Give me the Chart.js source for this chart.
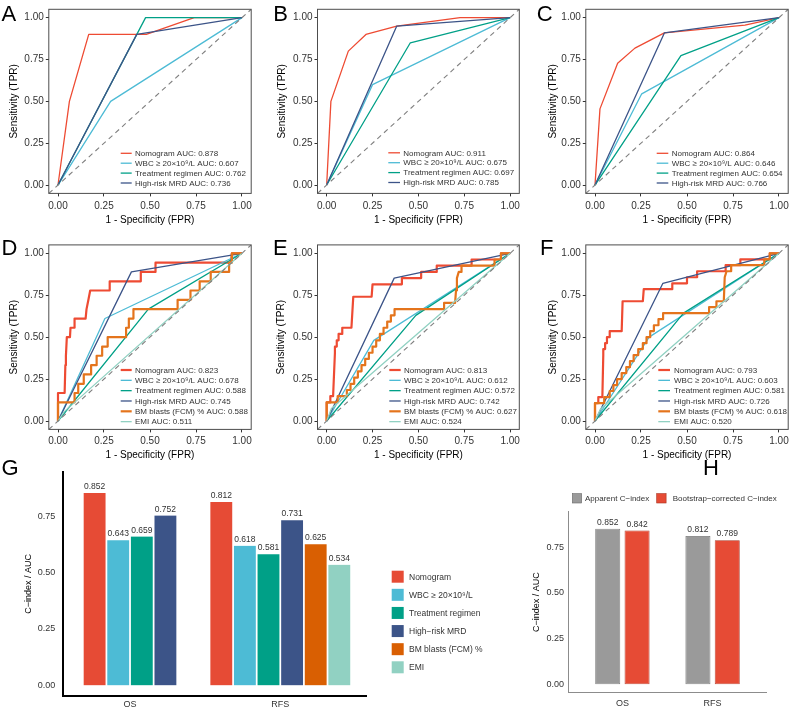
<!DOCTYPE html>
<html>
<head>
<meta charset="utf-8">
<title>ROC curves and C-index comparison</title>
<script src="https://cdn.jsdelivr.net/npm/chart.js@4.4.1/dist/chart.umd.min.js"></script>
<style>
  html, body { margin:0; padding:0; background:#ffffff; }
  #fig { position:relative; width:790px; height:707px; overflow:hidden; background:#ffffff; }
  #fig canvas { position:absolute; }
</style>
</head>
<body>
<div id="fig">
  <canvas id="cA" width="262" height="230" style="left:0px;top:0px;"></canvas>
  <canvas id="cB" width="262" height="230" style="left:262px;top:0px;"></canvas>
  <canvas id="cC" width="266" height="230" style="left:524px;top:0px;"></canvas>
  <canvas id="cD" width="262" height="232" style="left:0px;top:230px;"></canvas>
  <canvas id="cE" width="262" height="232" style="left:262px;top:230px;"></canvas>
  <canvas id="cF" width="266" height="232" style="left:524px;top:230px;"></canvas>
  <canvas id="cG" width="525" height="251" style="left:0px;top:456px;"></canvas>
  <canvas id="cH" width="265" height="251" style="left:525px;top:456px;"></canvas>
</div>
<script>
// ---------------- shared ----------------
const FONT = "'Liberation Sans', Arial, Helvetica, sans-serif";
const ROC_RANGE = [-0.05, 1.05];
const ROC_TICKS = [0, 0.25, 0.5, 0.75, 1];
const ROC_NAMES = ['Nomogram', 'WBC \u2265 20\u00d710\u2079/L', 'Treatment regimen', 'High-risk MRD', 'BM blasts (FCM) %', 'EMI'];
const ROC_COLORS = ['#EE4B33', '#4DBBD5', '#00A087', '#3C5488', '#E4741C', '#91D1C2'];

// ---------------- ROC panel A ----------------
const A_NOMOGRAM  = [[0,0],[0.062,0.5],[0.167,0.9],[0.48,0.9],[0.74,1],[1,1]];
const A_WBC       = [[0,0],[0.286,0.5],[1,1]];
const A_TREATMENT = [[0,0],[0.476,1],[1,1]];
const A_MRD       = [[0,0],[0.428,0.9],[1,1]];
const A_AUC = [0.878, 0.607, 0.762, 0.736];

// ---------------- ROC panel B ----------------
const B_NOMOGRAM  = [[0,0],[0.023,0.5],[0.118,0.8],[0.214,0.9],[0.382,0.95],[0.727,1],[1,1]];
const B_WBC       = [[0,0],[0.25,0.6],[1,1]];
const B_TREATMENT = [[0,0],[0.456,0.85],[1,1]];
const B_MRD       = [[0,0],[0.382,0.95],[1,1]];
const B_AUC = [0.911, 0.675, 0.697, 0.785];

// ---------------- ROC panel C ----------------
const C_NOMOGRAM  = [[0,0],[0.027,0.455],[0.123,0.727],[0.217,0.818],[0.377,0.909],[0.815,0.955],[1,1]];
const C_WBC       = [[0,0],[0.254,0.545],[1,1]];
const C_TREATMENT = [[0,0],[0.467,0.773],[1,1]];
const C_MRD       = [[0,0],[0.377,0.909],[1,1]];
const C_AUC = [0.864, 0.646, 0.654, 0.766];

// ---------------- ROC panel D ----------------
const D_NOMOGRAM  = [[0,0],[0,0.167],[0.036,0.167],[0.04,0.333],[0.043,0.389],[0.048,0.5],[0.065,0.5],[0.068,0.556],[0.088,0.556],[0.09,0.611],[0.15,0.611],[0.155,0.667],[0.165,0.722],[0.175,0.778],[0.281,0.778],[0.281,0.833],[0.45,0.833],[0.45,0.889],[0.53,0.889],[0.53,0.944],[0.94,0.944],[0.945,1],[1,1]];
const D_WBC       = [[0,0],[0.255,0.611],[1,1]];
const D_TREATMENT = [[0,0],[0.491,0.667],[1,1]];
const D_MRD       = [[0,0],[0.399,0.889],[1,1]];
const D_BM        = [[0,0],[0,0.111],[0.09,0.111],[0.09,0.167],[0.11,0.167],[0.11,0.222],[0.14,0.222],[0.14,0.278],[0.18,0.278],[0.18,0.333],[0.21,0.333],[0.21,0.389],[0.24,0.389],[0.24,0.444],[0.27,0.444],[0.27,0.5],[0.37,0.5],[0.37,0.556],[0.385,0.556],[0.385,0.611],[0.41,0.611],[0.41,0.667],[0.65,0.667],[0.65,0.722],[0.72,0.722],[0.72,0.778],[0.77,0.778],[0.77,0.833],[0.83,0.833],[0.83,0.889],[0.93,0.889],[0.93,0.944],[0.945,0.944],[0.945,1],[1,1]];
const D_EMI       = [[0,0],[0.034,0.056],[1,1]];
const D_AUC = [0.823, 0.678, 0.588, 0.745, 0.588, 0.511];

// ---------------- ROC panel E ----------------
const E_NOMOGRAM  = [[0,0],[0,0.111],[0.02,0.111],[0.02,0.148],[0.035,0.148],[0.045,0.407],[0.045,0.444],[0.055,0.444],[0.055,0.481],[0.065,0.481],[0.065,0.519],[0.085,0.519],[0.085,0.556],[0.135,0.556],[0.145,0.741],[0.245,0.741],[0.25,0.815],[0.41,0.815],[0.41,0.852],[0.515,0.852],[0.515,0.889],[0.6,0.889],[0.6,0.926],[0.79,0.926],[0.79,0.963],[0.95,0.963],[0.95,1],[1,1]];
const E_WBC       = [[0,0],[0.257,0.481],[1,1]];
const E_TREATMENT = [[0,0],[0.486,0.63],[1,1]];
const E_MRD       = [[0,0],[0.368,0.852],[1,1]];
const E_BM        = [[0,0],[0,0.111],[0.06,0.111],[0.06,0.148],[0.11,0.148],[0.11,0.185],[0.13,0.185],[0.13,0.222],[0.15,0.222],[0.15,0.259],[0.17,0.259],[0.17,0.296],[0.19,0.296],[0.19,0.333],[0.21,0.333],[0.21,0.37],[0.23,0.37],[0.23,0.407],[0.25,0.407],[0.25,0.444],[0.27,0.444],[0.27,0.481],[0.29,0.481],[0.29,0.519],[0.31,0.519],[0.31,0.556],[0.33,0.556],[0.33,0.593],[0.35,0.593],[0.35,0.63],[0.37,0.63],[0.37,0.667],[0.64,0.667],[0.64,0.704],[0.7,0.704],[0.705,0.778],[0.71,0.852],[0.72,0.889],[0.735,0.889],[0.735,0.926],[0.915,0.926],[0.915,0.963],[0.95,0.963],[0.95,1],[1,1]];
const E_EMI       = [[0,0],[0.026,0.074],[1,1]];
const E_AUC = [0.813, 0.612, 0.572, 0.742, 0.627, 0.524];

// ---------------- ROC panel F ----------------
const F_NOMOGRAM  = [[0,0],[0,0.107],[0.018,0.107],[0.018,0.143],[0.04,0.143],[0.045,0.393],[0.045,0.429],[0.055,0.429],[0.055,0.464],[0.065,0.464],[0.065,0.5],[0.08,0.5],[0.08,0.536],[0.145,0.536],[0.15,0.714],[0.26,0.714],[0.265,0.786],[0.42,0.786],[0.42,0.821],[0.5,0.821],[0.5,0.857],[0.555,0.857],[0.555,0.893],[0.71,0.893],[0.71,0.929],[0.79,0.929],[0.79,0.964],[0.95,0.964],[0.95,1],[1,1]];
const F_WBC       = [[0,0],[0.294,0.5],[1,1]];
const F_TREATMENT = [[0,0],[0.481,0.643],[1,1]];
const F_MRD       = [[0,0],[0.369,0.821],[1,1]];
const F_BM        = [[0,0],[0,0.107],[0.05,0.107],[0.05,0.143],[0.08,0.143],[0.08,0.179],[0.1,0.179],[0.1,0.214],[0.12,0.214],[0.12,0.25],[0.145,0.25],[0.145,0.286],[0.17,0.286],[0.17,0.321],[0.19,0.321],[0.19,0.357],[0.21,0.357],[0.21,0.393],[0.235,0.393],[0.235,0.429],[0.26,0.429],[0.26,0.464],[0.28,0.464],[0.28,0.5],[0.3,0.5],[0.3,0.536],[0.32,0.536],[0.32,0.571],[0.345,0.571],[0.345,0.607],[0.37,0.607],[0.37,0.643],[0.62,0.643],[0.62,0.679],[0.66,0.679],[0.66,0.714],[0.7,0.714],[0.705,0.857],[0.715,0.893],[0.74,0.893],[0.74,0.929],[0.92,0.929],[0.92,0.964],[0.95,0.964],[0.95,1],[1,1]];
const F_EMI       = [[0,0],[0.03,0.071],[1,1]];
const F_AUC = [0.793, 0.603, 0.581, 0.726, 0.618, 0.520];

// ---------------- Panel G (bars) ----------------
const G_GROUPS = ['OS', 'RFS'];
const G_MODELS = ['Nomogram', 'WBC \u2265 20\u00d710\u2079/L', 'Treatment regimen', 'High\u2212risk MRD', 'BM blasts (FCM) %', 'EMI'];
const G_OS  = [0.852, 0.643, 0.659, 0.752, null, null];
const G_RFS = [0.812, 0.618, 0.581, 0.731, 0.625, 0.534];
const G_COLORS = ['#E64B35', '#4DBBD5', '#00A087', '#3C5488', '#D95F02', '#91D1C2'];

// ---------------- Panel H (bars) ----------------
const H_GROUPS = ['OS', 'RFS'];
const H_SERIES = ['Apparent C\u2212index', 'Bootstrap\u2212corrected C\u2212index'];
const H_APPARENT  = [0.852, 0.812];
const H_BOOTSTRAP = [0.842, 0.789];
const H_FILLS = ['#9A9A9A', '#E64B35'];
const H_EDGES = ['#6A6A6A', '#A8321F'];

const BAR_RANGE = [-0.046, 0.945];
const BAR_TICKS = [0, 0.25, 0.5, 0.75];

// ---------------- ROC builder ----------------
function rocChart(spec) {
  const canvas = document.getElementById(spec.id);
  const W = canvas.width, H = canvas.height, a = spec.area;
  const datasets = [{
    label: 'Reference', data: ROC_RANGE.map(v => ({x: v, y: v})),
    borderColor: '#7f7f7f', borderWidth: 1.1, borderDash: [5, 4],
    showLine: true, pointRadius: 0, fill: false
  }];
  for (let i = spec.curves.length - 1; i >= 0; i--) {
    datasets.push({
      label: ROC_NAMES[i],
      data: spec.curves[i].map(p => ({x: p[0], y: p[1]})),
      borderColor: ROC_COLORS[i], borderWidth: spec.widths[i],
      showLine: true, pointRadius: 0, fill: false, tension: 0,
      borderJoinStyle: 'round'
    });
  }
  const decor = {
    id: 'rocDecor',
    afterDatasetsDraw(chart) {
      const ctx = chart.ctx, ca = chart.chartArea;
      ctx.save();
      ctx.strokeStyle = '#4d4d4d'; ctx.lineWidth = 1;
      ctx.strokeRect(ca.left, ca.top, ca.right - ca.left, ca.bottom - ca.top);
      ctx.restore();
    },
    afterDraw(chart) {
      const ctx = chart.ctx, L = spec.legend;
      ctx.save();
      ctx.font = '8px ' + FONT; ctx.textBaseline = 'middle'; ctx.textAlign = 'left';
      spec.curves.forEach((c, i) => {
        const y = L.y0 + i * L.dy;
        ctx.strokeStyle = ROC_COLORS[i]; ctx.lineWidth = spec.widths[i];
        ctx.beginPath(); ctx.moveTo(L.x0, y); ctx.lineTo(L.x1, y); ctx.stroke();
        ctx.fillStyle = '#333333';
        ctx.fillText(ROC_NAMES[i] + ' AUC: ' + spec.auc[i].toFixed(3), L.tx, y + 0.5);
      });
      ctx.font = '22px ' + FONT; ctx.fillStyle = '#000000'; ctx.textBaseline = 'alphabetic';
      ctx.fillText(spec.letter, spec.letterAt[0], spec.letterAt[1]);
      ctx.restore();
    }
  };
  const tickFont = {family: FONT, size: 10};
  return new Chart(canvas, {
    type: 'scatter',
    data: {datasets},
    options: {
      responsive: false, animation: false, events: [],
      layout: {padding: {left: 0, top: a.t, right: W - a.r, bottom: 0}},
      plugins: {legend: {display: false}, tooltip: {enabled: false}},
      scales: {
        x: {
          type: 'linear', min: ROC_RANGE[0], max: ROC_RANGE[1],
          afterBuildTicks: s => { s.ticks = ROC_TICKS.map(v => ({value: v})); },
          afterFit: s => { s.height = H - a.b; s.paddingLeft = 0; s.paddingRight = 0; },
          grid: {display: true, drawOnChartArea: false, drawTicks: true, tickLength: 3, tickColor: '#333333', tickWidth: 1},
          border: {display: false},
          ticks: {autoSkip: false, maxRotation: 0, padding: spec.xTickPad, color: '#333333', font: tickFont, callback: v => Number(v).toFixed(2)},
          title: {display: true, text: '1 - Specificity (FPR)', color: '#000000', font: {family: FONT, size: 10}, padding: {top: 0, bottom: spec.xTitlePad}}
        },
        y: {
          type: 'linear', min: ROC_RANGE[0], max: ROC_RANGE[1],
          afterBuildTicks: s => { s.ticks = ROC_TICKS.map(v => ({value: v})); },
          afterFit: s => { s.width = a.l; s.paddingTop = 0; s.paddingBottom = 0; },
          grid: {display: true, drawOnChartArea: false, drawTicks: true, tickLength: 3, tickColor: '#333333', tickWidth: 1},
          border: {display: false},
          ticks: {autoSkip: false, padding: 2, color: '#333333', font: tickFont, callback: v => Number(v).toFixed(2)},
          title: {display: true, text: 'Sensitivity (TPR)', color: '#000000', font: {family: FONT, size: 10}, padding: {top: spec.yTitlePad, bottom: 0}}
        }
      }
    },
    plugins: [decor]
  });
}

const W4 = [1.3, 1.3, 1.3, 1.3];
const W6 = [2.2, 1.3, 1.3, 1.3, 2.2, 1.3];

rocChart({id: 'cA', letter: 'A', letterAt: [1.5, 20.5], curves: [A_NOMOGRAM, A_WBC, A_TREATMENT, A_MRD], auc: A_AUC, widths: W4,
  area: {l: 48.8, r: 251.2, t: 9.3, b: 193.4}, xTickPad: 4, xTitlePad: 4, yTitlePad: 8,
  legend: {x0: 120.7, x1: 131.7, tx: 135, y0: 153.3, dy: 9.9}});
rocChart({id: 'cB', letter: 'B', letterAt: [11.3, 20.5], curves: [B_NOMOGRAM, B_WBC, B_TREATMENT, B_MRD], auc: B_AUC, widths: W4,
  area: {l: 55.5, r: 257.3, t: 9.3, b: 193.4}, xTickPad: 4, xTitlePad: 4, yTitlePad: 14.7,
  legend: {x0: 126.3, x1: 138, tx: 141.3, y0: 152.8, dy: 9.9}});
rocChart({id: 'cC', letter: 'C', letterAt: [12.7, 20.5], curves: [C_NOMOGRAM, C_WBC, C_TREATMENT, C_MRD], auc: C_AUC, widths: W4,
  area: {l: 61.8, r: 264.2, t: 9.3, b: 193.4}, xTickPad: 4, xTitlePad: 4, yTitlePad: 23.3,
  legend: {x0: 132.7, x1: 144.3, tx: 147.7, y0: 153.3, dy: 9.9}});
rocChart({id: 'cD', letter: 'D', letterAt: [1.5, 25], curves: [D_NOMOGRAM, D_WBC, D_TREATMENT, D_MRD, D_BM, D_EMI], auc: D_AUC, widths: W6,
  area: {l: 48.8, r: 251.2, t: 14.9, b: 199.4}, xTickPad: 3, xTitlePad: 1, yTitlePad: 8,
  legend: {x0: 120.7, x1: 131.7, tx: 135, y0: 140, dy: 10.33}});
rocChart({id: 'cE', letter: 'E', letterAt: [11, 25], curves: [E_NOMOGRAM, E_WBC, E_TREATMENT, E_MRD, E_BM, E_EMI], auc: E_AUC, widths: W6,
  area: {l: 55.5, r: 257.3, t: 14.9, b: 199.4}, xTickPad: 3, xTitlePad: 1, yTitlePad: 13.7,
  legend: {x0: 127.3, x1: 138.7, tx: 142, y0: 140, dy: 10.33}});
rocChart({id: 'cF', letter: 'F', letterAt: [16, 25], curves: [F_NOMOGRAM, F_WBC, F_TREATMENT, F_MRD, F_BM, F_EMI], auc: F_AUC, widths: W6,
  area: {l: 61.8, r: 264.2, t: 14.9, b: 199.4}, xTickPad: 3, xTitlePad: 1, yTitlePad: 23.3,
  legend: {x0: 134.3, x1: 146, tx: 150, y0: 140, dy: 10.33}});

// ---------------- value label helper ----------------
function drawValueLabels(chart, getVal) {
  const ctx = chart.ctx;
  ctx.save();
  ctx.font = '8.5px ' + FONT; ctx.fillStyle = '#333333';
  ctx.textAlign = 'center'; ctx.textBaseline = 'bottom';
  chart.data.datasets.forEach((ds, di) => {
    const meta = chart.getDatasetMeta(di);
    meta.data.forEach((el, j) => {
      const v = ds.data[j].y;
      if (v === null || v === undefined) return;
      ctx.fillText(v.toFixed(3), el.x, el.y - 2);
    });
  });
  ctx.restore();
}

// ---------------- Panel G ----------------
(function () {
  const canvas = document.getElementById('cG');
  const W = canvas.width, H = canvas.height;
  const area = {l: 63.3, r: 366.7, t: 16, b: 239.7};
  const decor = {
    id: 'gDecor',
    afterDatasetsDraw(chart) { drawValueLabels(chart); },
    afterDraw(chart) {
      const ctx = chart.ctx;
      ctx.save();
      ctx.font = '8.5px ' + FONT; ctx.textBaseline = 'middle'; ctx.textAlign = 'left';
      G_MODELS.forEach((m, i) => {
        const cy = 120.7 + i * 18.12;
        ctx.fillStyle = G_COLORS[i];
        ctx.fillRect(391.7, cy - 6, 12, 12);
        ctx.fillStyle = '#333333';
        ctx.fillText(m, 409, cy + 0.5);
      });
      ctx.font = '22px ' + FONT; ctx.fillStyle = '#000000'; ctx.textBaseline = 'alphabetic';
      ctx.fillText('G', 1.5, 19);
      ctx.restore();
    }
  };
  new Chart(canvas, {
    type: 'bar',
    data: {
      datasets: G_MODELS.map((m, i) => ({
        label: m,
        data: [{x: 1, y: G_OS[i]}, {x: 2, y: G_RFS[i]}],
        backgroundColor: G_COLORS[i], borderColor: '#ffffff',
        borderWidth: {top: 0, bottom: 0, left: 1.2, right: 1.2}, borderSkipped: false,
        barThickness: 23.6, skipNull: true
      }))
    },
    options: {
      responsive: false, animation: false, events: [],
      layout: {padding: {left: 0, top: area.t, right: W - area.r, bottom: 0}},
      plugins: {legend: {display: false}, tooltip: {enabled: false}},
      scales: {
        x: {
          type: 'linear', min: 0.556, max: 2.575, offset: false,
          afterBuildTicks: s => { s.ticks = G_GROUPS.map((g, i) => ({value: i + 1})); },
          afterFit: s => { s.height = H - area.b; s.paddingLeft = 0; s.paddingRight = 0; },
          grid: {display: false, drawTicks: false, tickLength: 0},
          border: {display: true, color: '#000000', width: 2},
          ticks: {autoSkip: false, maxRotation: 0, padding: 3, color: '#333333', font: {family: FONT, size: 9}, callback: v => G_GROUPS[Math.round(v) - 1]}
        },
        y: {
          type: 'linear', min: BAR_RANGE[0], max: BAR_RANGE[1],
          afterBuildTicks: s => { s.ticks = BAR_TICKS.map(v => ({value: v})); },
          afterFit: s => { s.width = area.l; s.paddingTop = 0; s.paddingBottom = 0; },
          grid: {display: false, drawTicks: false, tickLength: 0},
          border: {display: true, color: '#000000', width: 2},
          ticks: {autoSkip: false, padding: 8, color: '#333333', font: {family: FONT, size: 9}, callback: v => Number(v).toFixed(2)},
          title: {display: true, text: 'C\u2212index / AUC', color: '#000000', font: {family: FONT, size: 9}, padding: {top: 23.6, bottom: 0}}
        }
      }
    },
    plugins: [decor]
  });
})();

// ---------------- Panel H ----------------
(function () {
  const canvas = document.getElementById('cH');
  const W = canvas.width, H = canvas.height;
  const area = {l: 43.3, r: 241.7, t: 55.7, b: 236.7};
  const series = [H_APPARENT, H_BOOTSTRAP];
  const decor = {
    id: 'hDecor',
    afterDatasetsDraw(chart) { drawValueLabels(chart); },
    afterDraw(chart) {
      const ctx = chart.ctx;
      ctx.save();
      const keys = [[47.3, 60], [131.7, 147.7]];
      ctx.font = '8px ' + FONT; ctx.textBaseline = 'middle'; ctx.textAlign = 'left';
      H_SERIES.forEach((s, i) => {
        ctx.fillStyle = H_FILLS[i]; ctx.strokeStyle = H_EDGES[i]; ctx.lineWidth = 0.6;
        ctx.fillRect(keys[i][0], 37.6, 9.4, 9.4);
        ctx.strokeRect(keys[i][0], 37.6, 9.4, 9.4);
        ctx.fillStyle = '#333333';
        ctx.fillText(s, keys[i][1], 42.8);
      });
      ctx.font = '22px ' + FONT; ctx.fillStyle = '#000000'; ctx.textBaseline = 'alphabetic';
      ctx.fillText('H', 178, 19);
      ctx.restore();
    }
  };
  new Chart(canvas, {
    type: 'bar',
    data: {
      datasets: H_SERIES.map((s, i) => ({
        label: s,
        data: H_GROUPS.map((g, j) => ({x: j + 1, y: series[i][j]})),
        backgroundColor: H_FILLS[i], borderColor: H_EDGES[i], borderWidth: 0.8, borderSkipped: false,
        categoryPercentage: 0.65, barPercentage: 0.853
      }))
    },
    options: {
      responsive: false, animation: false, events: [],
      layout: {padding: {left: 0, top: area.t, right: W - area.r, bottom: 0}},
      plugins: {legend: {display: false}, tooltip: {enabled: false}},
      scales: {
        x: {
          type: 'linear', min: 0.4, max: 2.6, offset: false,
          afterBuildTicks: s => { s.ticks = H_GROUPS.map((g, i) => ({value: i + 1})); },
          afterFit: s => { s.height = H - area.b; s.paddingLeft = 0; s.paddingRight = 0; },
          grid: {display: false, drawTicks: false, tickLength: 0},
          border: {display: true, color: '#8c8c8c', width: 1},
          ticks: {autoSkip: false, maxRotation: 0, padding: 5.8, color: '#333333', font: {family: FONT, size: 9}, callback: v => H_GROUPS[Math.round(v) - 1]}
        },
        y: {
          type: 'linear', min: BAR_RANGE[0], max: BAR_RANGE[1],
          afterBuildTicks: s => { s.ticks = BAR_TICKS.map(v => ({value: v})); },
          afterFit: s => { s.width = area.l; s.paddingTop = 0; s.paddingBottom = 0; },
          grid: {display: false, drawTicks: false, tickLength: 0},
          border: {display: true, color: '#8c8c8c', width: 1},
          ticks: {autoSkip: false, padding: 4.3, color: '#333333', font: {family: FONT, size: 9}, callback: v => Number(v).toFixed(2)},
          title: {display: true, text: 'C\u2212index / AUC', color: '#000000', font: {family: FONT, size: 9}, padding: {top: 6, bottom: 0}}
        }
      }
    },
    plugins: [decor]
  });
})();
</script>
</body>
</html>
